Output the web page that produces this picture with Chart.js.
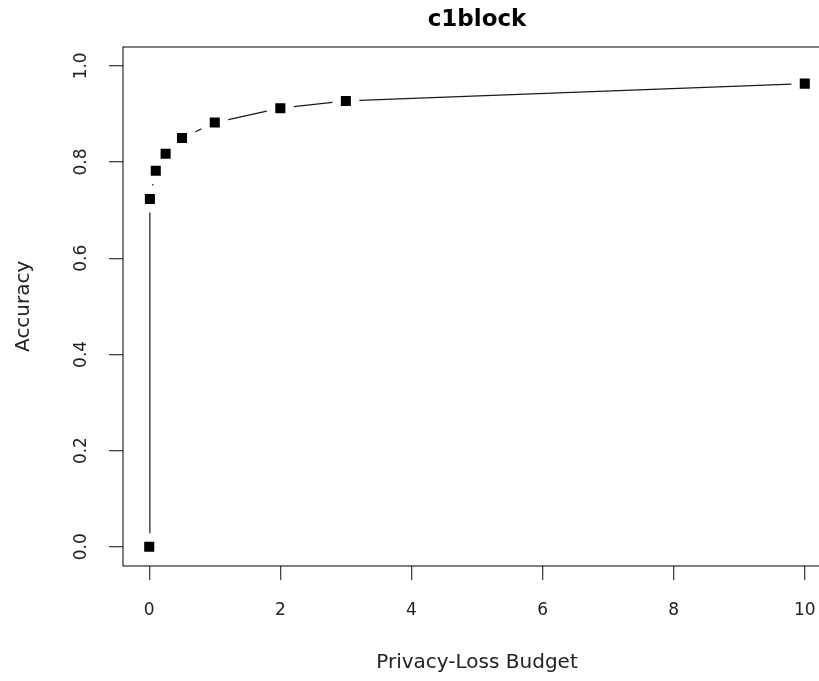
<!DOCTYPE html>
<html>
<head>
<meta charset="utf-8">
<title>c1block</title>
<script src="https://cdn.jsdelivr.net/npm/chart.js@4/dist/chart.umd.min.js"></script>
<style>
  html, body { margin: 0; padding: 0; background: #fff; overflow: hidden; }
  #wrap { width: 819px; height: 681px; overflow: hidden; }
  canvas { display: block; }
</style>
</head>
<body>
<div id="wrap"><canvas id="c" width="850" height="681"></canvas></div>
<script>
// Privacy-loss budget (epsilon) and the accuracy reached at each budget
const budgets  = [0, 0.01, 0.1, 0.25, 0.5, 1, 2, 3, 10];
const accuracy = [0.000, 0.723, 0.782, 0.817, 0.850, 0.882, 0.912, 0.927, 0.963];

// Axis ticks
const xTickValues = [0, 2, 4, 6, 8, 10];
const xTickLabels = ['0', '2', '4', '6', '8', '10'];
const yTickValues = [0, 0.2, 0.4, 0.6, 0.8, 1.0];
const yTickLabels = ['0.0', '0.2', '0.4', '0.6', '0.8', '1.0'];

const points = budgets.map((b, i) => ({ x: b, y: accuracy[i] }));

Chart.defaults.font.family = '"DejaVu Sans", sans-serif';
Chart.defaults.color = '#222';

// Closed frame around the plotting region
const frame = {
  id: 'frame',
  afterDraw(chart) {
    const { ctx, chartArea: a } = chart;
    ctx.save();
    ctx.strokeStyle = '#000';
    ctx.lineWidth = 1;
    ctx.strokeRect(Math.round(a.left), Math.round(a.top),
                   Math.round(a.right) - Math.round(a.left),
                   Math.round(a.bottom) - Math.round(a.top));
    ctx.restore();
  }
};

// Vertical y tick labels, written bottom-to-top beside the tick marks
const yLabels = {
  id: 'yLabels',
  afterDraw(chart) {
    const { ctx } = chart;
    const ys = chart.scales.y;
    ctx.save();
    ctx.font = '17px "DejaVu Sans"';
    ctx.fillStyle = '#222';
    ctx.textAlign = 'center';
    ctx.textBaseline = 'middle';
    yTickValues.forEach((v, i) => {
      ctx.save();
      ctx.translate(ys.right - 41, ys.getPixelForValue(v));
      ctx.rotate(-Math.PI / 2);
      ctx.fillText(yTickLabels[i], 0, 0);
      ctx.restore();
    });
    ctx.restore();
  }
};

new Chart(document.getElementById('c'), {
  type: 'scatter',
  data: {
    datasets: [
      { // markers
        data: points,
        order: 0,
        showLine: false,
        pointStyle: 'rect',
        pointRadius: 7.1,
        pointBackgroundColor: '#000',
        pointBorderColor: '#000',
        pointBorderWidth: 0
      },
      { // white clearance around each marker, breaking the connecting line
        data: points,
        order: 1,
        showLine: false,
        pointStyle: 'rect',
        pointRadius: 19,
        pointBackgroundColor: '#fff',
        pointBorderColor: '#fff',
        pointBorderWidth: 0
      },
      { // connecting line
        data: points,
        order: 2,
        showLine: true,
        borderColor: '#1a1a1a',
        borderWidth: 1.2,
        pointRadius: 0,
        fill: false,
        tension: 0
      }
    ]
  },
  options: {
    responsive: false,
    animation: false,
    devicePixelRatio: 1,
    events: [],
    layout: { padding: { left: 0, right: 17, top: 0, bottom: 0 } },
    plugins: {
      legend: { display: false },
      tooltip: { enabled: false },
      title: {
        display: true,
        text: 'c1block',
        fullSize: false,
        color: '#000',
        font: { size: 23, weight: 'bold' },
        padding: { top: 6, bottom: 13 }
      }
    },
    scales: {
      x: {
        type: 'linear',
        min: -0.4,
        max: 10.4,
        afterBuildTicks: s => { s.ticks = xTickValues.map(v => ({ value: v })); },
        afterFit: s => { s.height = 115; },
        ticks: {
          autoSkip: false,
          maxRotation: 0,
          padding: 20,
          font: { size: 17 },
          color: '#222',
          callback: v => xTickLabels[xTickValues.indexOf(v)]
        },
        grid: { drawOnChartArea: false, drawTicks: true, tickLength: 14, color: '#444', lineWidth: 1.3 },
        border: { display: false },
        title: {
          display: true,
          text: 'Privacy-Loss Budget',
          color: '#222',
          font: { size: 20 },
          padding: { top: 0, bottom: 6 }
        }
      },
      y: {
        type: 'linear',
        min: -0.04,
        max: 1.04,
        afterBuildTicks: s => { s.ticks = yTickValues.map(v => ({ value: v })); },
        afterFit: s => { s.width = 123; },
        ticks: { display: false },
        grid: { drawOnChartArea: false, drawTicks: true, tickLength: 14, color: '#444', lineWidth: 1.3 },
        border: { display: false },
        title: {
          display: true,
          text: 'Accuracy',
          color: '#222',
          font: { size: 20 },
          padding: { top: 12, bottom: 0 }
        }
      }
    }
  },
  plugins: [frame, yLabels]
});
</script>
</body>
</html>
